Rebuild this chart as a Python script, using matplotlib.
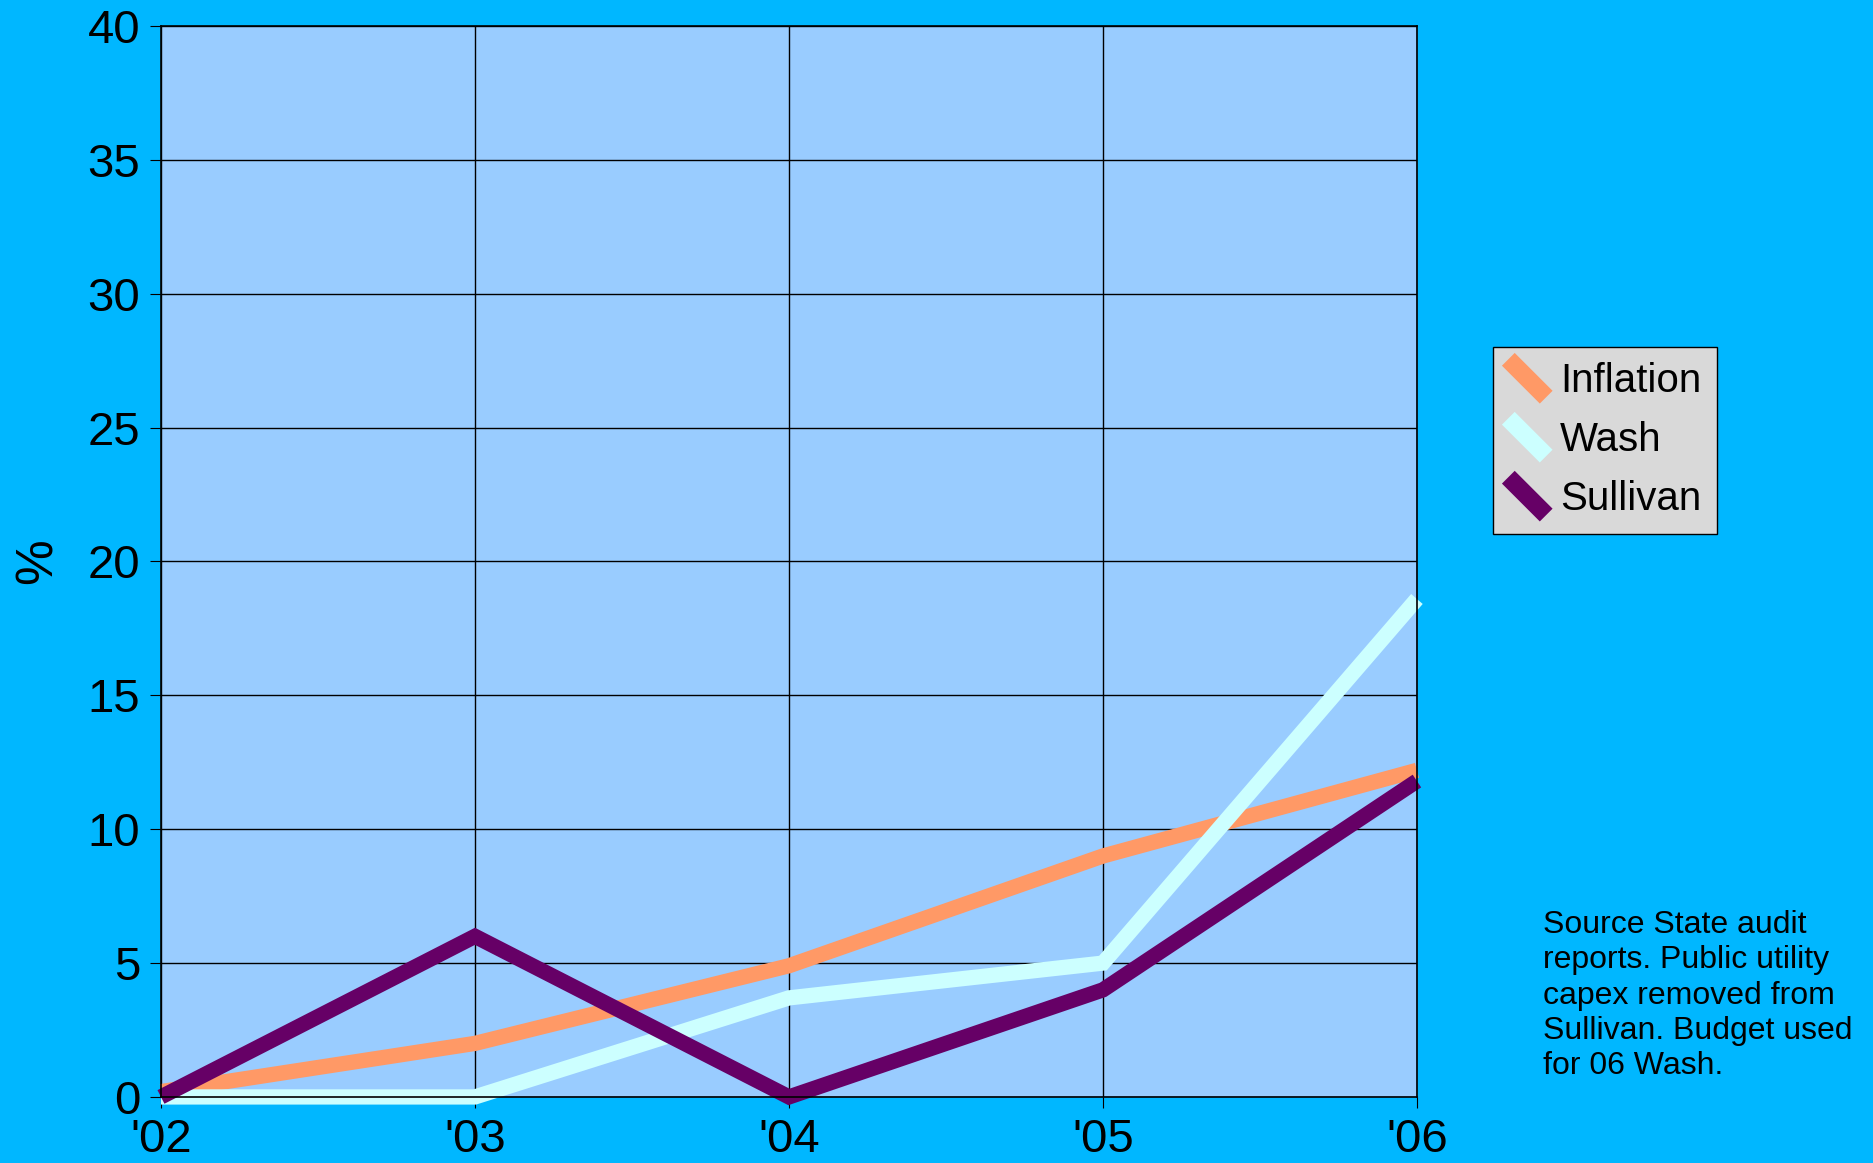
import matplotlib.pyplot as plt
from matplotlib.legend_handler import HandlerLine2D
from matplotlib.lines import Line2D

years = ["'02", "'03", "'04", "'05", "'06"]
inflation = [0.2, 2.0, 4.9, 9.0, 12.2]
wash = [0.0, 0.0, 3.7, 5.0, 18.6]
sullivan = [0.0, 6.0, 0.0, 4.0, 11.8]
series_names = ['Inflation', 'Wash', 'Sullivan']
series_colors = ['#FF9966', '#CCFFFF', '#660066']

note = ("Source State audit\nreports. Public utility\ncapex removed from\n"
        "Sullivan. Budget used\nfor 06 Wash.")

plt.rcParams['font.family'] = ['Liberation Sans', 'DejaVu Sans']


class DiagonalHandler(HandlerLine2D):
    """draw the legend key as a short 45 degree stroke"""
    def create_artists(self, legend, orig_handle, xdescent, ydescent,
                       width, height, fontsize, trans):
        yc = height / 2 - ydescent
        line = Line2D([-xdescent, -xdescent + width],
                      [yc + width / 2, yc - width / 2],
                      color=orig_handle.get_color(), linewidth=13,
                      solid_capstyle='butt')
        line.set_transform(trans)
        return [line]


fig = plt.figure(figsize=(18.74, 11.63), dpi=100, facecolor='#00B7FF')
ax = fig.add_axes([0.0859, 0.0568, 0.6702, 0.9208])
ax.set_facecolor('#99CCFF')

x = list(range(len(years)))
for vals, name, col in zip([inflation, wash, sullivan], series_names, series_colors):
    ax.plot(x, vals, color=col, linewidth=11, label=name,
            solid_capstyle='butt', solid_joinstyle='miter', clip_on=False)

ax.set_xlim(0, 4)
ax.set_ylim(0, 40)
ax.set_xticks(x)
ax.set_xticklabels(years)
ax.set_yticks(range(0, 41, 5))
ax.grid(True, color='black', linewidth=1)
ax.set_axisbelow(True)
for s in ax.spines.values():
    s.set_color('black')
    s.set_linewidth(1.2)
ax.tick_params(axis='both', labelsize=34, direction='out', length=8, color='black')
ax.tick_params(axis='x', pad=7)
ax.tick_params(axis='y', pad=7)
ax.set_ylabel('%', fontsize=37, va='center')
ax.yaxis.set_label_coords(-0.0975, 0.5)

leg = ax.legend(handler_map={Line2D: DiagonalHandler()},
                loc='upper left', bbox_to_anchor=(0.7967, 0.7016),
                bbox_transform=fig.transFigure,
                fontsize=29, frameon=True, fancybox=False,
                handlelength=0.94, handleheight=0.7, handletextpad=0.35,
                labelspacing=0.52, borderpad=0.38, borderaxespad=0)
leg.get_frame().set_facecolor('#D9D9D9')
leg.get_frame().set_edgecolor('black')
leg.get_frame().set_linewidth(1)
leg.get_frame().set_alpha(1)

fig.text(0.8234, 0.2176, note, fontsize=23, va='top', ha='left', linespacing=1.23)

fig.savefig('out.png', dpi=100, facecolor=fig.get_facecolor())
